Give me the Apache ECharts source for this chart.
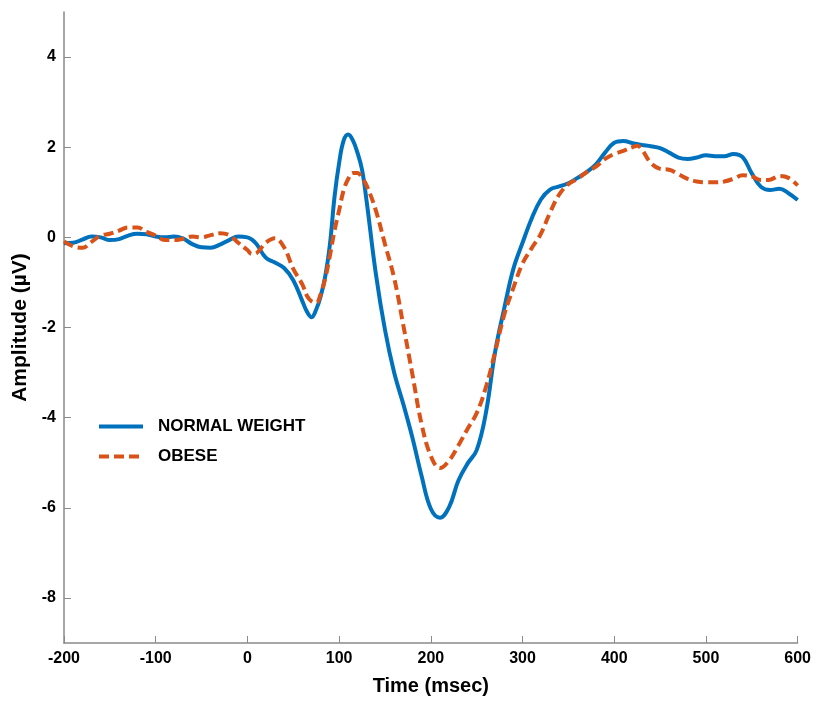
<!DOCTYPE html>
<html>
<head>
<meta charset="utf-8">
<script src="https://cdn.jsdelivr.net/npm/echarts@6/dist/echarts.min.js"></script>
<style>
	html, body { margin: 0; padding: 0; background: #fff; }
	#chart { width: 814px; height: 701px; }
</style>
</head>
<body>
<div id="chart"></div>
<script>
	// 时间点 (msec)
	var times = [-200, -190, -180, -170, -160, -150, -140, -130, -120, -110, -100, -90, -80, -70, -60, -50, -40, -30, -20, -10,
		0, 5, 10, 20, 30, 40, 50, 60, 65, 70, 75, 80, 85, 90, 95, 100, 105, 110, 115, 120, 125, 130,
		140, 150, 160, 170, 180, 190, 200, 210, 220, 230, 240, 250, 260, 270, 280, 290, 300,
		310, 320, 330, 340, 350, 360, 370, 380, 390, 400, 410, 420, 425, 430, 440, 450, 460, 470, 480, 490, 500,
		510, 520, 530, 540, 550, 560, 570, 580, 590, 600];

	var normalWeight = [-0.13, -0.12, -0.05, 0.02, 0.0, -0.06, -0.04, 0.04, 0.08, 0.07, 0.02, 0.0, 0.02, -0.03, -0.15, -0.22, -0.23, -0.16, -0.06, 0.02,
		0.0, -0.05, -0.15, -0.45, -0.56, -0.68, -0.95, -1.42, -1.65, -1.77, -1.6, -1.3, -0.85, -0.15, 0.9, 1.65, 2.15, 2.28, 2.15, 1.88, 1.5, 0.8,
		-0.8, -2.05, -3.0, -3.7, -4.45, -5.3, -6.02, -6.22, -5.98, -5.4, -5.02, -4.72, -3.9, -2.55, -1.58, -0.7, -0.12,
		0.42, 0.84, 1.06, 1.13, 1.2, 1.32, 1.45, 1.62, 1.88, 2.1, 2.14, 2.09, 2.07, 2.05, 2.02, 1.98, 1.88, 1.77, 1.74, 1.77, 1.82,
		1.8, 1.8, 1.85, 1.78, 1.42, 1.12, 1.05, 1.08, 0.98, 0.83];

	var obese = [-0.09, -0.2, -0.23, -0.1, 0.04, 0.08, 0.15, 0.22, 0.22, 0.12, 0.04, -0.06, -0.06, -0.03, 0.02, 0.0, 0.05, 0.09, 0.05, -0.12,
		-0.28, -0.37, -0.35, -0.12, -0.02, -0.22, -0.7, -1.05, -1.3, -1.42, -1.45, -1.25, -0.9, -0.4, 0.15, 0.6, 1.05, 1.3, 1.43, 1.43, 1.32, 1.15,
		0.6, -0.15, -0.9, -1.95, -3.05, -4.15, -4.85, -5.12, -4.95, -4.62, -4.25, -3.9, -3.33, -2.55, -1.72, -1.12, -0.58,
		-0.24, 0.08, 0.55, 0.95, 1.18, 1.3, 1.45, 1.57, 1.74, 1.85, 1.92, 2.0, 2.03, 1.95, 1.65, 1.52, 1.5, 1.4, 1.3, 1.24, 1.22,
		1.22, 1.24, 1.3, 1.38, 1.35, 1.27, 1.28, 1.36, 1.32, 1.15];

	var seriesNames = ['NORMAL WEIGHT', 'OBESE'];

	function pairs(vals) {
		return times.map(function (t, i) { return [t, vals[i]]; });
	}

	var myChart = echarts.init(document.getElementById('chart'));
	var font = 'Liberation Sans, Arial, Helvetica, sans-serif';
	var axisGray = '#8a8a8a';

	var option = {
		animation: false,
		textStyle: { fontFamily: font },
		grid: { left: 64, right: 14, top: 12, bottom: 54 },
		legend: {
			orient: 'vertical',
			left: 92,
			top: 413,
			itemWidth: 44,
			itemHeight: 14,
			itemGap: 13,
			data: seriesNames,
			itemStyle: { opacity: 0 },
			lineStyle: { width: 4 },
			textStyle: { color: '#000', fontWeight: 'bold', fontSize: 17, fontFamily: font, padding: [0, 0, 0, 10] }
		},
		xAxis: {
			type: 'value',
			min: -200,
			max: 600,
			interval: 100,
			name: 'Time (msec)',
			nameLocation: 'middle',
			nameGap: 33,
			nameTextStyle: { color: '#000', fontWeight: 'bold', fontSize: 20 },
			axisLine: { onZero: false, lineStyle: { color: axisGray, width: 1.5 } },
			axisTick: { inside: true, length: 7, lineStyle: { color: axisGray } },
			axisLabel: { color: '#000', fontWeight: 'bold', fontSize: 16, margin: 8 },
			splitLine: { show: false }
		},
		yAxis: {
			type: 'value',
			min: -9,
			max: 5,
			splitNumber: 7,
			name: 'Amplitude (\u00b5V)',
			nameLocation: 'middle',
			nameGap: 29,
			nameTextStyle: { color: '#000', fontWeight: 'bold', fontSize: 21 },
			axisLine: { show: true, onZero: false, lineStyle: { color: axisGray, width: 1.5 } },
			axisTick: { show: true, inside: true, length: 7, lineStyle: { color: axisGray } },
			axisLabel: {
				color: '#000', fontWeight: 'bold', fontSize: 16, margin: 8,
				showMinLabel: false, showMaxLabel: false,
				formatter: function (v) { return (v % 2 === 0) ? String(v) : ''; }
			},
			splitLine: { show: false }
		},
		series: [
			{
				name: seriesNames[0],
				type: 'line',
				data: pairs(normalWeight),
				smooth: 0.4,
				symbol: 'none',
				z: 2,
				lineStyle: { color: '#0072BD', width: 4 },
				itemStyle: { color: '#0072BD' }
			},
			{
				name: seriesNames[1],
				type: 'line',
				data: pairs(obese),
				smooth: 0.4,
				symbol: 'none',
				z: 3,
				lineStyle: { color: '#D95319', width: 4, type: [10, 5] },
				itemStyle: { color: '#D95319' }
			}
		]
	};

	myChart.setOption(option);
</script>
</body>
</html>
